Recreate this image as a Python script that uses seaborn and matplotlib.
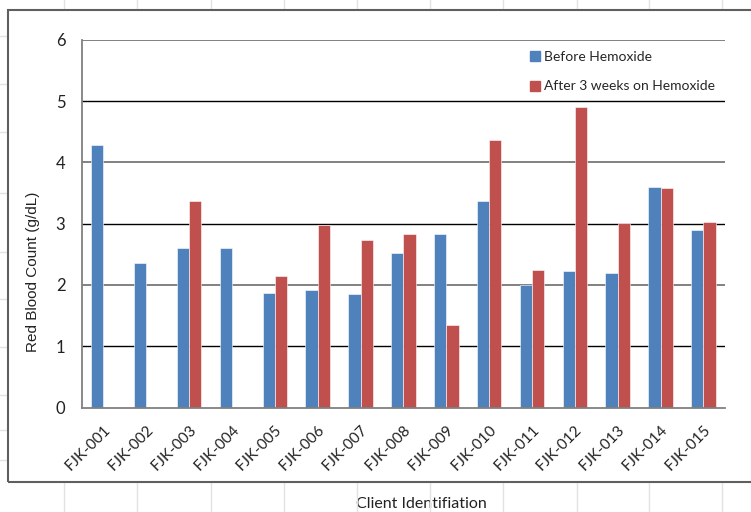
import numpy as np
import pandas as pd
import matplotlib
matplotlib.use("Agg")
import matplotlib.pyplot as plt
from matplotlib.patches import Rectangle
from matplotlib.lines import Line2D
import seaborn as sns

# ----------------------------
# Datos
clientes = ["FJK-001", "FJK-002", "FJK-003", "FJK-004", "FJK-005",
            "FJK-006", "FJK-007", "FJK-008", "FJK-009", "FJK-010",
            "FJK-011", "FJK-012", "FJK-013", "FJK-014", "FJK-015"]
antes = [4.29, 2.36, 2.60, 2.60, 1.87, 1.92, 1.86, 2.52, 2.84, 3.37,
         2.00, 2.23, 2.20, 3.60, 2.89]
despues = [np.nan, np.nan, 3.37, np.nan, 2.15, 2.98, 2.73, 2.84, 1.35, 4.36,
           2.25, 4.91, 3.01, 3.58, 3.03]
series = ["Before Hemoxide", "After 3 weeks on Hemoxide"]
colores = ["#4F81BD", "#C0504D"]

df = pd.DataFrame({
    "cliente": clientes * 2,
    "valor": antes + despues,
    "serie": [series[0]] * len(clientes) + [series[1]] * len(clientes),
})

# ----------------------------
sns.set_style("white")
plt.rcParams["font.family"] = ["Lato", "DejaVu Sans"]

fig = plt.figure(figsize=(7.51, 5.12), dpi=100)
ax = fig.add_axes([0.1092, 0.2041, 0.856, 0.7178])

sns.barplot(data=df, x="cliente", y="valor", hue="serie", hue_order=series,
            palette=colores, width=0.572, saturation=1, ax=ax,
            edgecolor="white", linewidth=0.4, legend=False)

# Ejes
ax.set_xlim(-0.5, len(clientes) - 0.5)
ax.set_ylim(0, 6)
ax.set_yticks(range(0, 7))
ax.tick_params(axis="y", direction="out", length=5, width=1, color="#808080",
               labelsize=12, pad=7, labelcolor="#222222")
ax.tick_params(axis="x", which="major", length=0, labelsize=11, pad=11,
               labelcolor="#222222")
ax.set_xticks(np.arange(-0.5, len(clientes)), minor=True)
ax.tick_params(axis="x", which="minor", direction="out", length=5, width=1,
               color="#404040")
plt.setp(ax.get_xticklabels(), rotation=45, ha="right", rotation_mode="anchor")

for s in ["top", "right"]:
    ax.spines[s].set_visible(False)
ax.spines["left"].set_color("#808080")
ax.spines["bottom"].set_color("#808080")
ax.spines["left"].set_linewidth(1.3)
ax.spines["bottom"].set_linewidth(1.3)

# Lineas de cuadricula alternadas (gris / negro)
ax.yaxis.grid(True)
ax.set_axisbelow(True)
for i, gl in enumerate(ax.get_ygridlines()):
    gl.set_color("#777777" if i % 2 == 0 else "black")
    gl.set_linewidth(1.3 if i % 2 == 0 else 1.0)
    gl.set_clip_on(True)
ax.get_ygridlines()[0].set_visible(False)

ax.set_ylabel("Red Blood Count (g/dL)", fontsize=11, color="#222222",
              family=["Liberation Sans", "DejaVu Sans"])
ax.yaxis.set_label_coords(-0.065, 0.369)
ax.set_xlabel("Client Identifiation", fontsize=11.5, color="#222222")
ax.xaxis.set_label_coords(0.528, -0.243)

# Leyenda
handles = [Line2D([], [], marker="s", linestyle="", markersize=7,
                  markerfacecolor=c, markeredgecolor=c) for c in colores]
ax.legend(handles, series, loc="upper left", bbox_to_anchor=(0.69, 0.985),
          frameon=False, fontsize=10, handlelength=0.6, handletextpad=0.3,
          labelspacing=1.25, borderaxespad=0)

# Marco del grafico y cuadricula de la hoja
fig.patches.append(Rectangle((8 / 751, 1 - 482 / 512), 1.0, (482 - 9.5) / 512,
                             transform=fig.transFigure, fill=False,
                             edgecolor="#5f5f5f", linewidth=1.5, zorder=5))
for xp in [64, 137, 211, 284, 357, 430, 503, 577, 649, 722]:
    for y0, y1 in [(0, 8), (483, 512)]:
        fig.add_artist(Line2D([xp / 751, xp / 751], [1 - y0 / 512, 1 - y1 / 512],
                              transform=fig.transFigure, color="#e2e2e2", lw=1))
for yp in [36, 84, 132, 193, 252, 299, 347, 395, 430, 460]:
    fig.add_artist(Line2D([0, 7 / 751], [1 - yp / 512, 1 - yp / 512],
                          transform=fig.transFigure, color="#e2e2e2", lw=1))

fig.savefig("out.png", dpi=100)
